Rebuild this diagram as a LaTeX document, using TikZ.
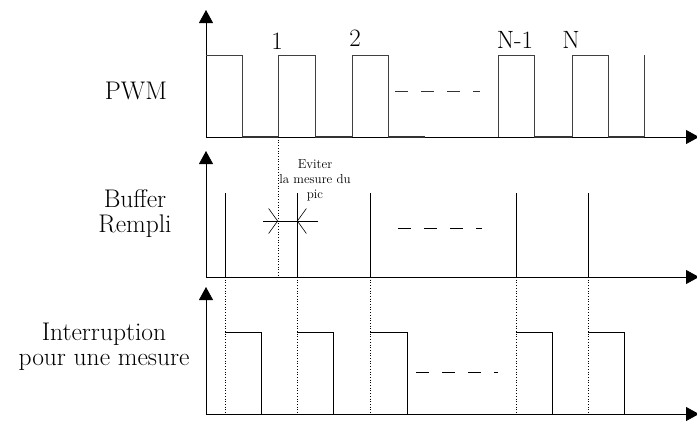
\documentclass[tikz,border=0pt]{standalone}
\usepackage{tikz}
\usetikzlibrary{arrows.meta, positioning}
\tikzset{
  axe/.style={line width=0.8pt, -{Triangle[length=13pt, width=14pt]}},
  signal/.style={line width=0.8pt, draw=black!75},
  bas/.style={line width=1.4pt, draw=black!80},
  repere/.style={line width=0.7pt, dotted},
  suite/.style={line width=1pt, dash pattern=on 13pt off 13pt},
  titre/.style={font=\fontsize{25.5}{25}\selectfont, align=center},
  chiffre/.style={font=\fontsize{25}{27}\selectfont},
  petit/.style={font=\fontsize{13}{15}\selectfont, align=center},
  pointe/.style={line width=0.6pt, -{Straight Barb[length=9pt, width=25pt, line width=0.6pt]}}
}

\begin{document}
\begin{tikzpicture}[x=1pt, y=-1pt]
  \useasboundingbox (0,0) rectangle (697,421);

  % --- Axes ---
  \coordinate (o1) at (206,137);
  \coordinate (o2) at (206,277);
  \coordinate (o3) at (206,414);
  \draw [axe] (o1) -- (206,10);
  \draw [axe] (o1) -- (699,137);
  \draw [axe] (o2) -- (206,151);
  \draw [axe] (o2) -- (699,277);
  \draw [axe] (o3) -- (206,287);
  \draw [axe] (o3) -- (699,414);

  % --- Titres a gauche ---
  \node (pwm) [titre] at (136,91) {PWM};
  \node (buffer) [titre] at (135,214) {Buffer\\Rempli};
  \node (interruption) [titre] at (104,347) {Interruption\\pour une mesure};

  % --- Signal PWM ---
  \draw [signal] (206,55) -- (242,55) -- (242,137)
    (278,137) -- (278,55) -- (315,55) -- (315,137)
    (352,137) -- (352,55) -- (388,55) -- (388,137);
  \draw [signal] (498,137) -- (498,55) -- (534,55) -- (534,137)
    (572,137) -- (572,55) -- (608,55) -- (608,137)
    (644,137) -- (644,55);
  \foreach \a/\b in {242/278, 315/352, 388/425, 534/572, 608/644}
    \draw [bas] (\a,137) -- (\b,137);

  \node (n1) [chiffre] at (277,41) {1};
  \node (n2) [chiffre] at (355,38) {2};
  \node (nm1) [chiffre] at (515,40) {N-1};
  \node (nn) [chiffre] at (571,40) {N};

  % --- Buffer rempli ---
  \foreach \x in {225, 297, 370, 516, 588}
    \draw [line width=0.9pt] (\x,193) -- (\x,277);
  \draw [repere] (278,137) -- (278,277);

  % Eviter la mesure du pic
  \coordinate (g) at (263,221);
  \coordinate (d) at (318,221);
  \draw [line width=0.6pt] (g) -- (d);
  \draw [pointe] (g) -- (278,221);
  \draw [pointe] (d) -- (297,221);
  \node (eviter) [petit] at (315,180) {Eviter\\la mesure du\\pic};

  % --- Interruption ---
  \foreach \x/\w in {225/36, 297/36, 370/37, 516/36, 588/36} {
    \draw [repere] (\x,277) -- (\x,414);
    \draw [line width=0.8pt] (\x,332) -- ++(\w,0) -- ++(0,82);
  }

  % --- Pointilles de suite ---
  \draw [suite, draw=black!80] (395,91) -- (480,91);
  \draw [suite] (398,228) -- (482,228);
  \draw [suite] (416,372) -- (498,372);
\end{tikzpicture}
\end{document}
